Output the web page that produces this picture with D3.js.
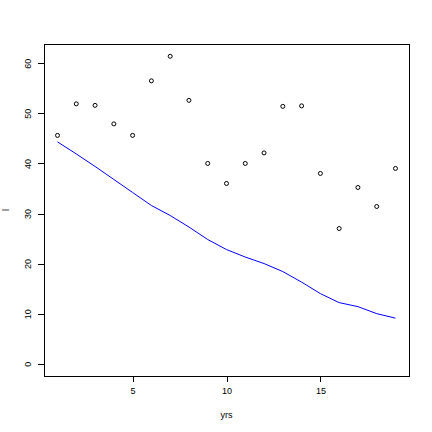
<!DOCTYPE html>
<html>
<head>
<meta charset="utf-8">
<script src="https://cdn.jsdelivr.net/npm/d3@7"></script>
<style>
html,body{margin:0;padding:0;background:#fff;}
svg{display:block;}
text{font-family:"Liberation Sans",Arial,Helvetica,sans-serif;}
</style>
</head>
<body>
<div id="chart"></div>
<script>
const yrs = [1,2,3,4,5,6,7,8,9,10,11,12,13,14,15,16,17,18,19];
const points = [45.6,51.9,51.6,47.9,45.6,56.5,61.4,52.6,40.0,36.0,40.0,42.1,51.4,51.5,38.0,27.0,35.2,31.4,39.0];
const fitted = [44.3,41.9,39.4,36.8,34.2,31.6,29.6,27.3,24.8,22.8,21.3,20.0,18.4,16.3,14.0,12.2,11.4,10.0,9.1];
const xTicks = [5,10,15];
const yTicks = [0,10,20,30,40,50,60];
const xLabel = "yrs";
const yLabel = "l";

(function () {
const W = 432, H = 432;
const pl = 44, pr = 409, pt = 44, pb = 376;
const xmin = 1, xmax = 19, ymin = 0, ymax = 61.4;
const xe = (xmax - xmin) * 0.04, ye = (ymax - ymin) * 0.04;

const svg = d3.select("#chart").append("svg").attr("width", W).attr("height", H);
svg.append("rect").attr("width", W).attr("height", H).attr("fill", "#fff");

const x = d3.scaleLinear().domain([xmin - xe, xmax + xe]).range([pl, pr]);
const y = d3.scaleLinear().domain([ymin - ye, ymax + ye]).range([pb, pt]);

const fs = 9;

const xa = svg.append("g").attr("transform", `translate(0,${pb})`)
  .call(d3.axisBottom(x).tickValues(xTicks).tickSize(6).tickPadding(6).tickFormat(d3.format("d")));
xa.select(".domain").remove();
xa.selectAll("line").attr("stroke", "#000").attr("shape-rendering", "crispEdges");
xa.selectAll("text").attr("font-size", fs).attr("fill", "#000").attr("font-family", "Liberation Sans, Arial, sans-serif");

const ya = svg.append("g").attr("transform", `translate(${pl},0)`)
  .call(d3.axisLeft(y).tickValues(yTicks).tickSize(6).tickFormat(d3.format("d")));
ya.select(".domain").remove();
ya.selectAll("line").attr("stroke", "#000").attr("shape-rendering", "crispEdges");
ya.selectAll("text").remove();
ya.selectAll(".tick").append("text")
  .attr("transform", "translate(-13,0) rotate(-90)")
  .attr("text-anchor", "middle")
  .attr("font-size", fs)
  .attr("fill", "#000")
  .attr("font-family", "Liberation Sans, Arial, sans-serif")
  .text(d => d);

svg.append("rect").attr("x", pl).attr("y", pt).attr("width", pr - pl).attr("height", pb - pt)
  .attr("fill", "none").attr("stroke", "#000").attr("stroke-width", 1).attr("shape-rendering", "crispEdges");

svg.append("text").attr("x", (pl + pr) / 2).attr("y", 418).attr("text-anchor", "middle")
  .attr("font-size", fs).attr("fill", "#000").text(xLabel);
svg.append("text").attr("transform", `translate(9,${(pt + pb) / 2}) rotate(-90)`).attr("text-anchor", "middle")
  .attr("font-size", fs).attr("fill", "#000").text(yLabel);

const line = d3.line().x((d, i) => x(yrs[i])).y(d => y(d));
svg.append("path").datum(fitted).attr("d", line).attr("fill", "none").attr("stroke", "#0000ff").attr("stroke-width", 1);

svg.append("g").selectAll("circle").data(points).join("circle")
  .attr("cx", (d, i) => x(yrs[i])).attr("cy", d => y(d)).attr("r", 2)
  .attr("fill", "none").attr("stroke", "#000").attr("stroke-width", 1);
})();
</script>
</body>
</html>
